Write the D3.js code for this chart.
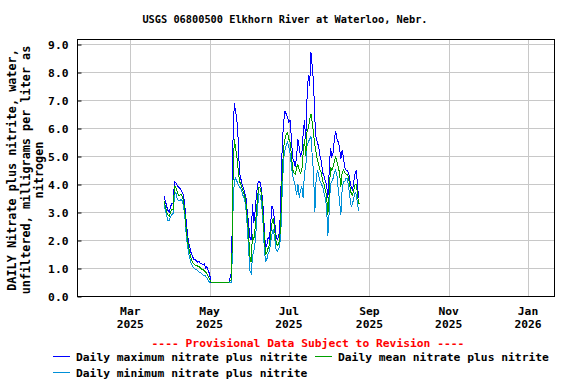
<!DOCTYPE html>
<html>
<head>
<meta charset="utf-8">
<script src="https://cdn.jsdelivr.net/npm/d3@7"></script>
<style>
  body { margin: 0; background: #fff; }
  text { font-family: "DejaVu Sans Mono", "Liberation Mono", monospace; font-weight: bold; fill: #000; }
</style>
</head>
<body>
<svg id="chart"></svg>
<script>
const title = "USGS 06800500 Elkhorn River at Waterloo, Nebr.";
const yLabelLines = ["DAILY Nitrate plus nitrite, water,", "unfiltered, milligrams per liter as", "nitrogen"];
const yTicks = [0, 1, 2, 3, 4, 5, 6, 7, 8, 9];
const firstDay = "2025-03-27";

// daily values, mg/L, one per day from firstDay
const dailyMax = [
  3.55, 3.4, 3.2, 3.05, 3.0, 3.2, 3.3, 3.3, 4.1, 4.05,
  3.95, 3.9, 3.85, 3.8, 3.7, 3.6, 3.2, 2.7, 2.2, 1.9,
  1.7, 1.5, 1.4, 1.3, 1.3, 1.25, 1.2, 1.25, 1.15, 1.15,
  1.1, 1.15, 1.0, 1.05, 0.9, 0.8, 0.5, 0.5, 0.5, 0.5,
  0.5, 0.5, 0.5, 0.5, 0.5, 0.5, 0.5, 0.5, 0.5, 0.5,
  0.5, 0.7, 0.9, 5.5, 6.9, 6.6, 6.3, 5.6, 4.4, 4.2,
  4.0, 3.85, 3.7, 3.5, 3.0, 2.6, 2.1, 2.0, 3.3, 2.6,
  3.0, 3.6, 4.0, 4.1, 4.05, 3.8, 3.3, 2.5, 1.75, 1.8,
  2.1, 2.0, 2.6, 3.2, 3.1, 2.7, 2.2, 2.0, 2.1, 2.4,
  4.0, 5.5, 6.2, 6.6, 6.5, 6.4, 6.2, 6.3, 5.6, 4.9,
  4.8, 4.6, 5.0, 5.6, 5.3, 5.0, 5.1, 5.8, 6.27, 5.6,
  7.1, 7.9, 7.5, 8.7, 8.2, 7.6, 6.3, 5.6, 5.5, 5.3,
  5.0, 4.8, 4.4, 4.3, 4.1, 4.0, 3.5, 4.4, 5.3, 5.0,
  5.1, 5.6, 5.9, 5.6, 5.5, 5.3, 4.9, 5.2, 4.96, 4.6,
  4.5, 4.48, 4.4, 4.1, 3.9, 3.8, 4.1, 4.37, 4.48, 3.8,
  3.5
];
const dailyMean = [
  3.4, 3.2, 3.0, 2.9, 2.85, 3.0, 3.1, 3.1, 3.9, 3.9,
  3.75, 3.6, 3.6, 3.65, 3.55, 3.4, 3.0, 2.4, 2.0, 1.7,
  1.5, 1.3, 1.2, 1.15, 1.1, 1.1, 1.05, 1.05, 1.0, 0.95,
  0.95, 0.9, 0.85, 0.8, 0.7, 0.6, 0.5, 0.5, 0.5, 0.5,
  0.5, 0.5, 0.5, 0.5, 0.5, 0.5, 0.5, 0.5, 0.5, 0.5,
  0.5, 0.55, 0.6, 4.1, 5.6, 5.3, 5.0, 4.5, 4.1, 4.0,
  3.85, 3.7, 3.6, 3.3, 2.8, 2.2, 1.4, 1.2, 2.2, 2.0,
  2.4, 3.0, 3.6, 3.9, 3.85, 3.6, 3.0, 2.2, 1.5, 1.55,
  1.7, 1.8, 2.2, 2.6, 2.8, 2.4, 2.0, 1.8, 1.85, 2.0,
  3.0, 4.5, 5.3, 5.6, 5.8, 5.85, 5.6, 5.5, 5.0, 4.5,
  4.4, 4.35, 4.6, 4.7, 4.5, 4.4, 4.5, 5.1, 5.6, 5.0,
  5.9, 6.0, 6.3, 6.5, 6.2, 5.8, 5.4, 5.1, 4.85, 4.7,
  4.5, 4.4, 4.1, 4.0, 3.8, 3.6, 2.9, 3.6, 4.6, 4.5,
  4.6, 4.8, 5.0, 4.8, 4.6, 4.4, 3.9, 4.4, 4.5, 4.4,
  4.35, 4.35, 4.2, 3.9, 3.65, 3.6, 3.8, 4.0, 4.0, 3.5,
  3.3
];
const dailyMin = [
  3.3, 3.05, 2.85, 2.7, 2.7, 2.85, 2.9, 2.95, 3.6, 3.7,
  3.5, 3.4, 3.4, 3.45, 3.4, 3.2, 2.8, 2.2, 1.8, 1.5,
  1.3, 1.15, 1.05, 1.0, 0.95, 0.95, 0.9, 0.85, 0.85, 0.8,
  0.75, 0.75, 0.7, 0.65, 0.55, 0.5, 0.5, 0.5, 0.5, 0.5,
  0.5, 0.5, 0.5, 0.5, 0.5, 0.5, 0.5, 0.5, 0.5, 0.5,
  0.5, 0.5, 0.5, 3.0, 4.1, 4.2, 4.1, 4.0, 3.9, 3.85,
  3.7, 3.55, 3.45, 3.1, 2.5, 1.7, 0.9, 0.8, 1.4, 1.6,
  1.9, 2.5, 3.2, 3.65, 3.6, 3.3, 2.7, 1.8, 1.25, 1.3,
  1.5, 1.6, 1.9, 2.2, 2.4, 2.1, 1.7, 1.6, 1.65, 1.8,
  2.5, 3.9, 4.9, 5.2, 5.4, 5.5, 5.3, 5.1, 4.6, 4.3,
  4.1, 3.9, 3.6, 4.0, 3.5, 3.8, 3.9, 3.5, 4.4, 4.6,
  5.4, 5.5, 5.6, 5.7, 5.0, 4.4, 3.0, 4.2, 4.5, 4.3,
  4.1, 4.0, 3.9, 3.7, 3.5, 3.2, 2.15, 3.0, 4.0, 4.1,
  4.2, 4.4, 4.5, 4.3, 3.8, 3.4, 2.9, 3.8, 4.1, 4.1,
  4.2, 4.2, 3.9, 3.5, 3.2, 3.3, 3.5, 3.7, 3.6, 3.2,
  3.05
];

const seriesNames = [
  "Daily maximum nitrate plus nitrite",
  "Daily mean nitrate plus nitrite",
  "Daily minimum nitrate plus nitrite"
];
const seriesColors = ["#0000ff", "#00a000", "#0090d8"];

const width = 576, height = 384;
const margin = { top: 39, right: 22, bottom: 88, left: 77 };

const svg = d3.select("#chart")
  .attr("width", width)
  .attr("height", height);

const start = d3.timeParse("%Y-%m-%d")(firstDay);
const dayOf = i => d3.timeDay.offset(start, i);

const x = d3.scaleTime()
  .domain([new Date(2025, 0, 19), new Date(2026, 0, 21)])
  .range([margin.left, width - margin.right]);

const y = d3.scaleLinear()
  .domain([0, 9.18])
  .range([height - margin.bottom, margin.top]);

const px = v => Math.round(v) + 0.5;

// gridlines
const monthTicks = x.ticks(d3.timeMonth.every(2));
svg.append("g")
  .selectAll("line")
  .data(monthTicks)
  .join("line")
  .attr("x1", d => px(x(d))).attr("x2", d => px(x(d)))
  .attr("y1", margin.top).attr("y2", height - margin.bottom)
  .attr("stroke", "#c8c8c8");

svg.append("g")
  .selectAll("line")
  .data(yTicks)
  .join("line")
  .attr("x1", margin.left).attr("x2", width - margin.right)
  .attr("y1", d => px(y(d))).attr("y2", d => px(y(d)))
  .attr("stroke", "#c8c8c8");

// y axis
const yAxis = svg.append("g")
  .attr("transform", `translate(${px(margin.left)},0.5)`)
  .call(d3.axisLeft(y).tickValues(yTicks).tickFormat(d3.format(".1f")).tickSize(-4).tickPadding(9));
yAxis.select(".domain").remove();
yAxis.selectAll("text").style("font-size", "11.3px");
yAxis.selectAll("line").attr("stroke", "#000");

// x axis labels
const xLab = svg.append("g")
  .selectAll("text")
  .data(monthTicks)
  .join("text")
  .attr("x", d => x(d))
  .attr("text-anchor", "middle")
  .style("font-size", "11.3px");
xLab.append("tspan").attr("x", d => x(d)).attr("y", 315).text(d3.timeFormat("%b"));
xLab.append("tspan").attr("x", d => x(d)).attr("y", 328).text(d3.timeFormat("%Y"));

// series
const line = d3.line()
  .x((d, i) => x(dayOf(i)))
  .y(d => y(d));

const drawOrder = [[dailyMin, 2], [dailyMax, 0], [dailyMean, 1]];
drawOrder.forEach(([vals, k]) => {
  svg.append("path")
    .datum(vals)
    .attr("d", line)
    .attr("fill", "none")
    .attr("stroke", seriesColors[k])
    .attr("stroke-width", 1)
    .attr("shape-rendering", "crispEdges");
});

// frame
svg.append("rect")
  .attr("x", px(margin.left)).attr("y", px(margin.top))
  .attr("width", Math.round(width - margin.right - margin.left))
  .attr("height", Math.round(height - margin.bottom - margin.top))
  .attr("fill", "none")
  .attr("stroke", "#000");

// title
svg.append("text")
  .attr("x", 285).attr("y", 23)
  .attr("text-anchor", "middle")
  .style("font-size", "10.3px")
  .text(title);

// y label
const yl = svg.append("text")
  .attr("transform", `translate(0,${170}) rotate(-90)`)
  .attr("text-anchor", "middle")
  .style("font-size", "11.8px");
yLabelLines.forEach((t, i) => {
  yl.append("tspan").attr("x", 0).attr("y", 16 + i * 13.5).text(t);
});

// provisional note
svg.append("text")
  .attr("x", 308).attr("y", 347)
  .attr("text-anchor", "middle")
  .style("font-size", "11.3px")
  .style("fill", "#ff0000")
  .text("---- Provisional Data Subject to Revision ----");

// legend
const legendPos = [[53, 361], [315, 361], [53, 377]];
const leg = svg.append("g")
  .selectAll("g")
  .data(seriesNames)
  .join("g")
  .attr("transform", (d, i) => `translate(${legendPos[i][0]},${legendPos[i][1]})`);
leg.append("line")
  .attr("x1", 0).attr("x2", 17)
  .attr("y1", -4.5).attr("y2", -4.5)
  .attr("stroke", (d, i) => seriesColors[i]);
leg.append("text")
  .attr("x", 23)
  .style("font-size", "11.3px")
  .text(d => d);
</script>
</body>
</html>
